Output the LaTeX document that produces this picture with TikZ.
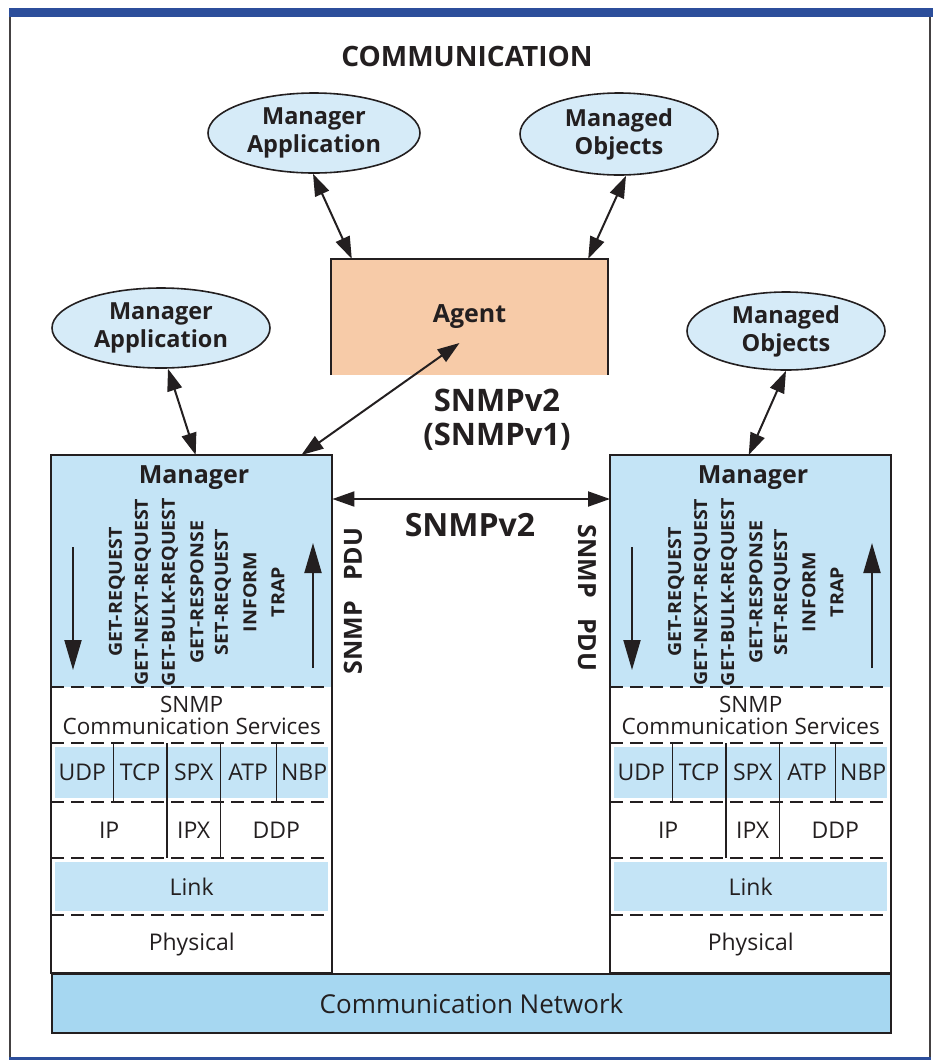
\documentclass[tikz,border=0pt]{standalone}
\usepackage{fontspec}
\usepackage{graphicx}
\setmainfont{Open Sans}
\usetikzlibrary{arrows.meta,shapes.geometric,backgrounds}
\definecolor{panel}{HTML}{C4E4F6}
\definecolor{netblue}{HTML}{A6D7F1}
\definecolor{ellblue}{HTML}{D6EBF8}
\definecolor{peach}{HTML}{F7CBA8}
\definecolor{barblue}{HTML}{2C4E9B}
\definecolor{ink}{HTML}{231F20}
\tikzset{
 ell/.style={ellipse, draw=ink, line width=1.6pt, fill=ellblue, inner sep=0pt, align=center, font=\fontsize{23.5}{28}\selectfont\bfseries},
 dbl/.style={{Triangle[length=22pt,width=15pt]}-{Triangle[length=22pt,width=15pt]}, line width=2pt},
 cell/.style={rectangle, inner sep=0pt, anchor=north west, font=\fontsize{23}{23}\selectfont, align=center},
 sepline/.style={dash pattern=on 13pt off 7pt, line width=2pt},
 boxline/.style={line width=2pt},
 cmd/.style={rotate=90, font=\fontsize{18}{18}\selectfont\bfseries},
 big/.style={font=\fontsize{31}{34}\selectfont\bfseries, align=center},
 vline/.style={line width=1.8pt},
 stackarrow/.style={-{Triangle[length=30pt,width=17pt]}, line width=2pt},
 pdu/.style={font=\fontsize{25}{25}\selectfont\bfseries},
}
\begin{document}
\begin{tikzpicture}[x=1pt,y=-1pt,color=ink]
\useasboundingbox (0,0) rectangle (933,1061);
% frame
\fill[barblue] (9,8) rectangle (933,17);
\draw[line width=1.5pt,ink!85] (9.75,17) -- (9.75,1058);
\draw[line width=1.5pt,ink!85] (930,17) -- (930,1058);
\draw[line width=3pt,barblue] (9,1058) -- (931,1058);

\node[font=\fontsize{28}{30}\selectfont\bfseries] (title) at (467,56) {COMMUNICATION};

% ellipses
\node[ell, minimum width=212pt, minimum height=80pt] (maT) at (314,133) {Manager\\Application};
\node[ell, minimum width=198pt, minimum height=82pt] (moT) at (619,134) {Managed\\Objects};
\node[ell, minimum width=218pt, minimum height=80pt] (maL) at (161,328) {Manager\\Application};
\node[ell, minimum width=198pt, minimum height=78pt] (moR) at (786,331) {Managed\\Objects};

% agent
\node[fill=peach, minimum width=277pt, minimum height=116pt, inner sep=0pt, font=\fontsize{25}{25}\selectfont\bfseries] (agent) at (469.5,317) {Agent};
\draw[line width=1.5pt] (agent.south west) -- (agent.north west) -- (agent.north east) -- (agent.south east);

% stacks
\foreach \sk/\ox in {L/0,R/559}{
\begin{scope}[xshift=\ox pt]
 \node[cell, fill=panel, minimum width=281pt, minimum height=232pt] (\sk mgr) at (51,455) {};
 \node[font=\fontsize{25}{25}\selectfont\bfseries] (\sk mgrT) at (194,478) {Manager};
 \node[cell, font=\fontsize{22.5}{22}\selectfont, minimum width=281pt, minimum height=56pt] (\sk scs) at (51,687) {SNMP\\Communication Services};
 \node[cell, minimum width=62pt, minimum height=59pt] (\sk udp) at (51,743) {UDP};
 \node[cell, minimum width=54pt, minimum height=59pt] (\sk tcp) at (113,743) {TCP};
 \node[cell, minimum width=53pt, minimum height=59pt] (\sk spx) at (167,743) {SPX};
 \node[cell, minimum width=56pt, minimum height=59pt] (\sk atp) at (220,743) {ATP};
 \node[cell, minimum width=56pt, minimum height=59pt] (\sk nbp) at (276,743) {NBP};
 \node[cell, minimum width=116pt, minimum height=56pt] (\sk ip) at (51,802) {IP};
 \node[cell, minimum width=53pt, minimum height=56pt] (\sk ipx) at (167,802) {IPX};
 \node[cell, minimum width=112pt, minimum height=56pt] (\sk ddp) at (220,802) {DDP};
 \node[cell, minimum width=281pt, minimum height=57pt] (\sk link) at (51,858) {Link};
 \node[cell, minimum width=281pt, minimum height=58pt] (\sk phys) at (51,915) {Physical};
 \begin{scope}[on background layer]
  \fill[panel] ([shift={(4pt,-4pt)}]\sk udp.north west) rectangle ([shift={(-4pt,4pt)}]\sk nbp.south east);
  \fill[panel] ([shift={(4pt,-4pt)}]\sk link.north west) rectangle ([shift={(-4pt,4pt)}]\sk link.south east);
 \end{scope}
 \draw[sepline] (\sk scs.north west) -- (\sk scs.north east);
 \draw[sepline] (\sk udp.north west) -- (\sk nbp.north east);
 \draw[sepline] (\sk ip.north west) -- (\sk ddp.north east);
 \draw[sepline] (\sk link.north west) -- (\sk link.north east);
 \draw[sepline] (\sk phys.north west) -- (\sk phys.north east);
 \draw[vline] (\sk udp.north east) -- (\sk udp.south east);
 \draw[vline] (\sk spx.north west) -- (\sk ipx.south west);
 \draw[vline] (\sk spx.north east) -- (\sk ipx.south east);
 \draw[vline] (\sk atp.north east) -- (\sk atp.south east);
 \draw[boxline] (\sk mgr.north west) rectangle (\sk phys.south east);
 \foreach \cmdtext/\xx [count=\i] in {GET-REQUEST/117, GET-NEXT-REQUEST/143, GET-BULK-REQUEST/170, GET-RESPONSE/197, SET-REQUEST/223, INFORM/250, TRAP/278}
   \node[cmd] (\sk cmd\i) at (\xx,592) {\scalebox{1.09}[1]{\cmdtext}};
 \coordinate (\sk dA) at (73,547); \coordinate (\sk dB) at (73,670);
 \draw[stackarrow] (\sk dA) -- (\sk dB);
 \coordinate (\sk uA) at (313,668); \coordinate (\sk uB) at (313,543);
 \draw[stackarrow] (\sk uA) -- (\sk uB);
\end{scope}
}

% network
\node[cell, fill=netblue, draw=ink, line width=2pt, minimum width=839pt, minimum height=59pt, font=\fontsize{26}{26}\selectfont] (net) at (51,973) {Communication Network};

% connectors
\draw[dbl] ([xshift=-1pt]maT.south) -- ([xshift=21pt]agent.north west);
\draw[dbl] ([xshift=7pt]moT.south) -- ([xshift=-20pt]agent.north east);
\draw[dbl] ([xshift=7pt]maL.south) -- ([xshift=4pt]Lmgr.north);
\draw[dbl] (moR.south) -- ([xshift=-2pt]Rmgr.north);
\draw[dbl] ([shift={(-10pt,-26pt)}]agent.center) -- ([xshift=-31pt]Lmgr.north east);
\draw[dbl] ([yshift=-44pt]Lmgr.north east) -- ([yshift=-44pt]Rmgr.north west);

% labels
\node[big] (v2v1) at (497,420) {SNMPv2\\(SNMPv1)};
\node[big, font=\fontsize{32}{34}\selectfont\bfseries] (v2) at (470,525) {SNMPv2};
\node[pdu, rotate=90] (pduL) at (353,601) {SNMP\hspace{0.8em}PDU};
\node[pdu, rotate=-90] (pduR) at (587,598) {SNMP\hspace{0.8em}PDU};
\end{tikzpicture}
\end{document}
